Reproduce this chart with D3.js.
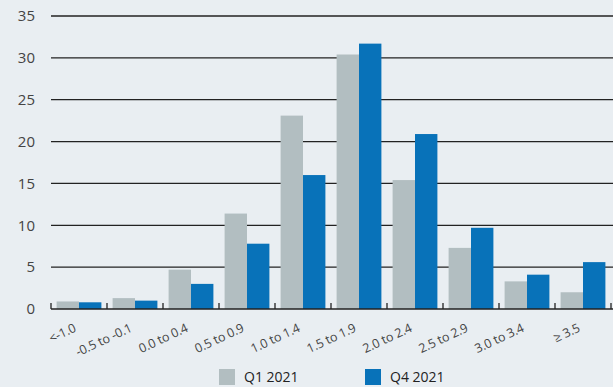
<!DOCTYPE html>
<html>
<head>
<meta charset="utf-8">
<script src="https://cdn.jsdelivr.net/npm/d3@7"></script>
<style>
  body { margin: 0; background: #e9eef2; }
  svg { display: block; font-family: "Open Sans", "Noto Sans", sans-serif; }
</style>
</head>
<body>
<div id="chart"></div>
<script>
// data
const categories = ["<-1.0", "-0.5 to -0.1", "0.0 to 0.4", "0.5 to 0.9", "1.0 to 1.4",
                    "1.5 to 1.9", "2.0 to 2.4", "2.5 to 2.9", "3.0 to 3.4", "≥ 3.5"];
const q1Values = [0.9, 1.3, 4.7, 11.4, 23.1, 30.4, 15.4, 7.3, 3.3, 2.0];
const q4Values = [0.8, 1.0, 3.0, 7.8, 16.0, 31.7, 20.9, 9.7, 4.1, 5.6];
const seriesNames = ["Q1 2021", "Q4 2021"];
const yTicks = [0, 5, 10, 15, 20, 25, 30, 35];

const width = 613, height = 387;
const margin = {top: 16, right: 2, bottom: 78, left: 51};
const colors = ["#b2bec1", "#0872b9"];

const svg = d3.select("#chart").append("svg")
    .attr("width", width)
    .attr("height", height);

svg.append("rect").attr("width", width).attr("height", height).attr("fill", "#e9eef2");

const x = d3.scaleBand()
    .domain(categories)
    .range([margin.left, width - margin.right])
    .paddingInner(0.2)
    .paddingOuter(0.1);

const x1 = d3.scaleBand()
    .domain(seriesNames)
    .range([0, x.bandwidth()]);

const y = d3.scaleLinear()
    .domain([0, 35])
    .range([height - margin.bottom, margin.top]);

// gridlines
svg.append("g")
    .selectAll("line")
    .data(yTicks.filter(d => d > 0))
    .join("line")
    .attr("x1", margin.left)
    .attr("x2", width)
    .attr("y1", d => y(d))
    .attr("y2", d => y(d))
    .attr("stroke", "#222")
    .attr("stroke-width", 1.3);

// y labels
svg.append("g")
    .selectAll("text")
    .data(yTicks)
    .join("text")
    .attr("x", 35)
    .attr("y", d => y(d))
    .attr("dy", "0.35em")
    .attr("text-anchor", "end")
    .attr("fill", "#444")
    .attr("font-size", 15)
    .text(d => d);

// bars
const rows = categories.map((c, i) => ({cat: c, vals: [q1Values[i], q4Values[i]]}));
const groups = svg.append("g")
    .selectAll("g")
    .data(rows)
    .join("g")
    .attr("transform", d => `translate(${x(d.cat)},0)`);

groups.selectAll("rect")
    .data(d => d.vals.map((v, j) => ({name: seriesNames[j], v: v, j: j})))
    .join("rect")
    .attr("x", d => x1(d.name))
    .attr("width", x1.bandwidth())
    .attr("y", d => y(d.v))
    .attr("height", d => y(0) - y(d.v))
    .attr("fill", d => colors[d.j]);

// x axis line and ticks at band boundaries
const y0 = y(0);
svg.append("line")
    .attr("x1", margin.left).attr("x2", width)
    .attr("y1", y0).attr("y2", y0)
    .attr("stroke", "#222").attr("stroke-width", 1.5);

const step = x.step();
const bounds = d3.range(categories.length + 1).map(i => margin.left + i * step);
svg.append("g")
    .selectAll("line")
    .data(bounds)
    .join("line")
    .attr("x1", d => d).attr("x2", d => d)
    .attr("y1", y0 - 6).attr("y2", y0)
    .attr("stroke", "#222").attr("stroke-width", 1.3);

// x labels rotated
svg.append("g")
    .selectAll("text")
    .data(categories)
    .join("text")
    .attr("transform", d => `translate(${x(d) + x.bandwidth() / 2 - 2},${y0 + 22}) rotate(-25)`)
    .attr("text-anchor", "end")
    .attr("fill", "#444")
    .attr("font-size", 12.5)
    .attr("letter-spacing", -0.1)
    .text(d => d);

// legend
const legend = svg.append("g")
    .selectAll("g")
    .data(seriesNames)
    .join("g")
    .attr("transform", (d, i) => `translate(${219 + i * 146},369)`);

legend.append("rect")
    .attr("width", 16).attr("height", 16)
    .attr("fill", (d, i) => colors[i]);

legend.append("text")
    .attr("x", 25).attr("y", 8)
    .attr("dy", "0.35em")
    .attr("fill", "#222")
    .attr("font-size", 14)
    .text(d => d);
</script>
</body>
</html>
